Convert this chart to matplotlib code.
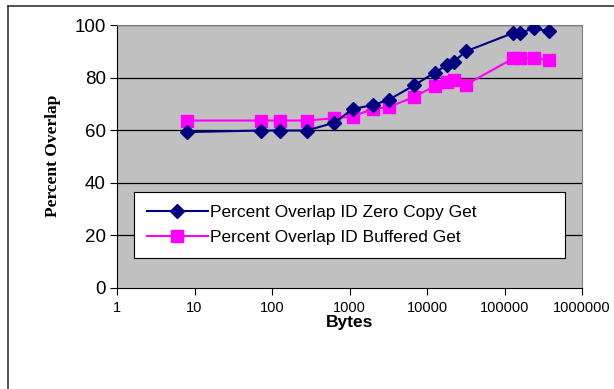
import numpy as np
import matplotlib.pyplot as plt
from matplotlib.lines import Line2D

# message sizes (bytes) and overlap percentages
nbytes = [8, 72, 125, 280, 640, 1100, 2000, 3200, 6800, 12500,
          18000, 22000, 32000, 130000, 160000, 240000, 370000]
zero_copy = [59.2, 59.8, 59.8, 59.8, 62.8, 68.0, 69.5, 71.5, 77.0, 81.8,
             84.7, 86.0, 90.0, 97.0, 97.0, 98.8, 97.6]
buffered = [63.6, 63.6, 63.6, 63.6, 64.5, 65.1, 68.1, 68.7, 72.6, 76.7,
            78.3, 79.0, 77.3, 87.3, 87.3, 87.3, 86.7]

yticks = [0, 20, 40, 60, 80, 100]
xticks = [1, 10, 100, 1000, 10000, 100000, 1000000]

fig = plt.figure(figsize=(6.14, 3.89), dpi=100)
ax = fig.add_axes([117 / 614, 1 - 287.5 / 389, 465 / 614, 262.5 / 389])
ax.set_facecolor('#c0c0c0')

# outer frame (top and left only visible)
fig.add_artist(Line2D([7.5 / 614, 1], [1 - 5.5 / 389, 1 - 5.5 / 389],
                      color='#333333', lw=1.2, transform=fig.transFigure))
fig.add_artist(Line2D([7.5 / 614, 7.5 / 614], [0, 1 - 5.5 / 389],
                      color='#333333', lw=1.2, transform=fig.transFigure))

ax.set_xscale('log')
ax.set_xlim(1, 1000000)
ax.set_ylim(0, 100)

for y in yticks[1:]:
    ax.axhline(y, color='black', lw=0.9, zorder=1)

ax.plot(nbytes, zero_copy, color='#000080', marker='D', ms=7, lw=1.5,
        label='Percent Overlap ID Zero Copy Get', zorder=3)
ax.plot(nbytes, buffered, color='#ff00ff', marker='s', ms=8, lw=1.5,
        label='Percent Overlap ID Buffered Get', zorder=2)

ax.set_xticks(xticks)
ax.set_xticklabels([str(x) for x in xticks], family='Liberation Sans', fontsize=10.5)
ax.minorticks_off()
ax.set_yticks(yticks)
ax.set_yticklabels([str(y) for y in yticks], family='Liberation Sans', fontsize=13.5)
ax.tick_params(axis='x', direction='out', length=5, pad=5, color='black')
ax.tick_params(axis='y', direction='out', length=5, pad=3, color='black')

for s in ['top', 'right']:
    ax.spines[s].set_color('#808080')
for s in ['left', 'bottom']:
    ax.spines[s].set_color('black')

ax.set_xlabel('Bytes', family='Liberation Sans', fontweight='bold',
              fontsize=12.5, labelpad=0)
ax.set_ylabel('Percent Overlap', family='Liberation Serif', fontweight='bold',
              fontsize=12.5, labelpad=10)

leg = ax.legend(loc='lower left', bbox_to_anchor=(17 / 465, 29.5 / 262.5, 431 / 465, 71 / 262.5),
                mode='expand', fancybox=False, framealpha=1, edgecolor='black',
                prop={'family': 'Liberation Sans', 'size': 12.5}, handlelength=3.5,
                borderaxespad=0, labelspacing=0.55, handletextpad=0.15,
                borderpad=0.75)
leg.get_frame().set_linewidth(0.8)
# entries sit in the middle of the box, as in the original
leg._legend_box.align = 'center'

fig.savefig('out.png', dpi=100)
